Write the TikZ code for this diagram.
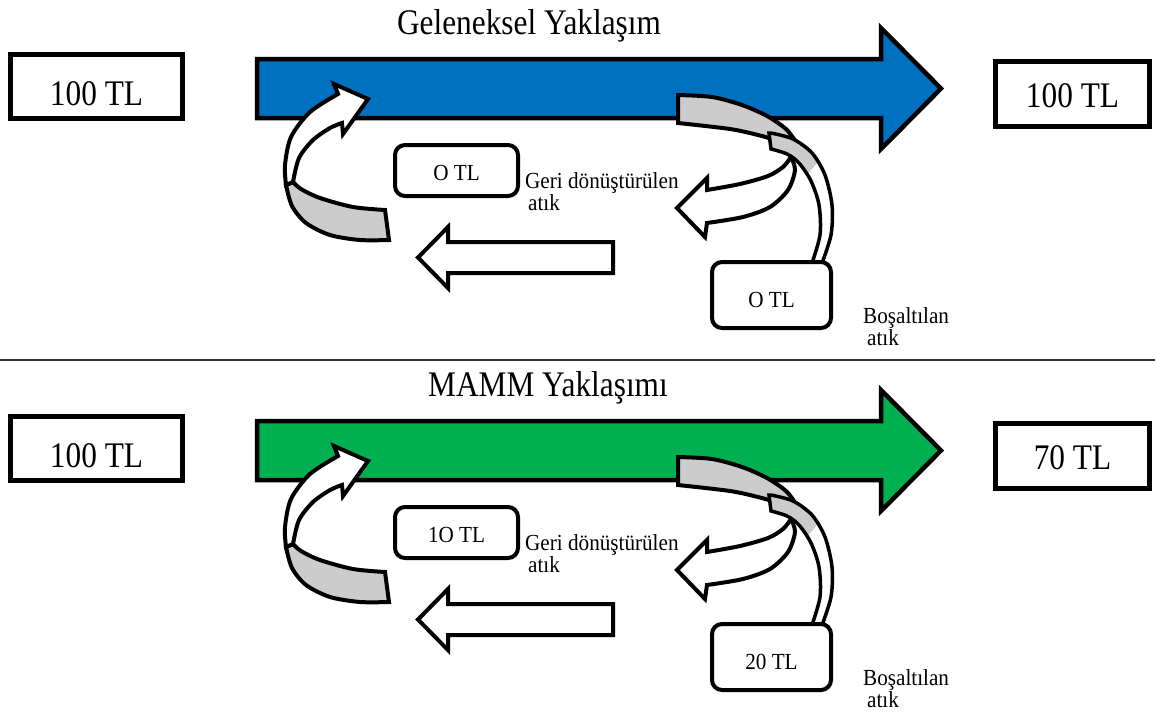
\documentclass[tikz,border=0pt]{standalone}
\usepackage{fontspec}
\setmainfont{Liberation Serif}
\definecolor{flowblue}{HTML}{0070C0}
\definecolor{flowgreen}{HTML}{00B050}
\definecolor{ribbon}{HTML}{CCCCCC}
% slightly condensed lettering
\newcommand\narrowtxt[1]{\scalebox{0.87}[1]{#1}}
\newcommand\slimtxt[1]{\scalebox{0.92}[1]{#1}}

% one approach: title, main flow arrow, recycling and discharge loops, value boxes
% #1 name suffix, #2 flow colour, #3 title, #4 title centre x,
% #5 output value, #6 recycled value, #7 discharged value
\newcommand\flowpanel[7]{%
  \node[titletext] (title#1) at (#4,34) {\narrowtxt{#3}};
  % main flow arrow
  \draw[outline, line width=4.5pt, fill=#2]
    (257,59) -- (881,59) -- (881,28) -- (941,88.5) -- (881,149) -- (881,118) -- (257,118) -- cycle;
  % recycling loop back into the flow (left)
  \draw[outline, fill=ribbon]
    (286,185) -- plot[smooth] coordinates {(286,185) (292,206) (306,223) (330,235) (360,240) (389,240)}
    -- (385,210)
    -- plot[smooth] coordinates {(385,210) (353,207) (320,198) (301,189) (293,182)} -- cycle;
  \draw[outline, fill=white]
    (286,185) -- plot[smooth] coordinates {(286,185) (285,165) (291,137) (310,112) (338,94)}
    -- (334,84) -- (368,99) -- (343,134) -- (342,123)
    -- plot[smooth] coordinates {(342,123) (330,128) (313,140) (299,158) (293,182)} -- cycle;
  % recycled stream returning
  \draw[outline, fill=white]
    (613,242) -- (448,242) -- (448,227) -- (418,257.5) -- (448,288) -- (448,273) -- (613,273) -- cycle;
  % recycled waste branch (right)
  \draw[outline, fill=white]
    (707,190) -- (707,178) -- (677,208) -- (705,237) -- (707,223)
    -- plot[smooth] coordinates {(707,223) (743,217) (770,207) (788,190) (795,170) (791,157)}
    -- plot[smooth] coordinates {(791,157) (783,167) (768,176) (740,184) (707,190)} -- cycle;
  % waste ribbon leaving the flow
  \draw[outline, fill=ribbon]
    (678,95) -- plot[smooth] coordinates {(678,95) (712,97) (742,105) (767,116) (786,129) (796,142)}
    -- (785,147)
    -- plot[smooth] coordinates {(772,139) (758,135) (730,129) (678,123)} -- cycle;
  % discharged waste ribbon down to the box
  \def\dischargeband{(769,133) -- plot[smooth] coordinates {(771,133) (793,139) (812,153) (825,175) (832,205) (831,235) (821,266)}
    -- plot[smooth] coordinates {(811,266) (820,235) (819,205) (811,181) (799,163) (787,154) (771,149)} -- cycle}
  \fill[white] \dischargeband;
  \begin{scope}
    \clip \dischargeband;
    \fill[ribbon] (750,120) -- (830,148) -- (806,176) -- (750,168) -- cycle;
  \end{scope}
  \draw[outline, line width=3.5pt] \dischargeband;
  % value boxes
  \node[valbox, minimum width=172pt, minimum height=64pt, text height=38pt] (in#1) at (96.5,86) {\narrowtxt{100 TL}};
  \node[valbox, minimum width=154pt, minimum height=65pt, text height=26pt] (out#1) at (1072.5,94) {\narrowtxt{#5}};
  \node[smallbox, minimum width=123pt, minimum height=51pt, text height=19pt] (rec#1) at (456.5,170.5) {\slimtxt{#6}};
  \node[smallbox, minimum width=119pt, minimum height=66pt, text height=24pt] (dis#1) at (771.5,295) {\slimtxt{#7}};
  % labels
  \node[labeltext] (recA#1) at (525,188) {\slimtxt{Geri dönüştürülen}};
  \node[labeltext] (recB#1) at (528,210) {\slimtxt{atık}};
  \node[labeltext] (disA#1) at (863,323) {\slimtxt{Boşaltılan}};
  \node[labeltext] (disB#1) at (867,345) {\slimtxt{atık}};
}

\begin{document}
\begin{tikzpicture}[x=1pt,y=-1pt,
  outline/.style={draw=black, line width=4pt, line join=miter, miter limit=4},
  titletext/.style={anchor=base, inner sep=0pt, font=\fontsize{36}{40}\selectfont},
  valbox/.style={draw=black, line width=5pt, fill=white, inner sep=0pt, text depth=0pt,
    font=\fontsize{36}{40}\selectfont},
  smallbox/.style={draw=black, line width=4pt, rounded corners=10pt, fill=white, inner sep=0pt,
    text depth=0pt, font=\fontsize{23}{26}\selectfont},
  labeltext/.style={anchor=base west, inner sep=0pt, font=\fontsize{23}{26}\selectfont}]
  \useasboundingbox (0,0) rectangle (1157,713);

  \flowpanel{T}{flowblue}{Geleneksel Yaklaşım}{529}{100 TL}{O TL}{O TL}

  % divider between the two approaches
  \coordinate (sepL) at (0,360);
  \coordinate (sepR) at (1155,360);
  \draw[line width=2pt, black!80] (sepL) -- (sepR);

  \begin{scope}[yshift=-362pt]
    \flowpanel{M}{flowgreen}{MAMM Yaklaşımı}{548}{70 TL}{1O TL}{20 TL}
  \end{scope}
\end{tikzpicture}
\end{document}
